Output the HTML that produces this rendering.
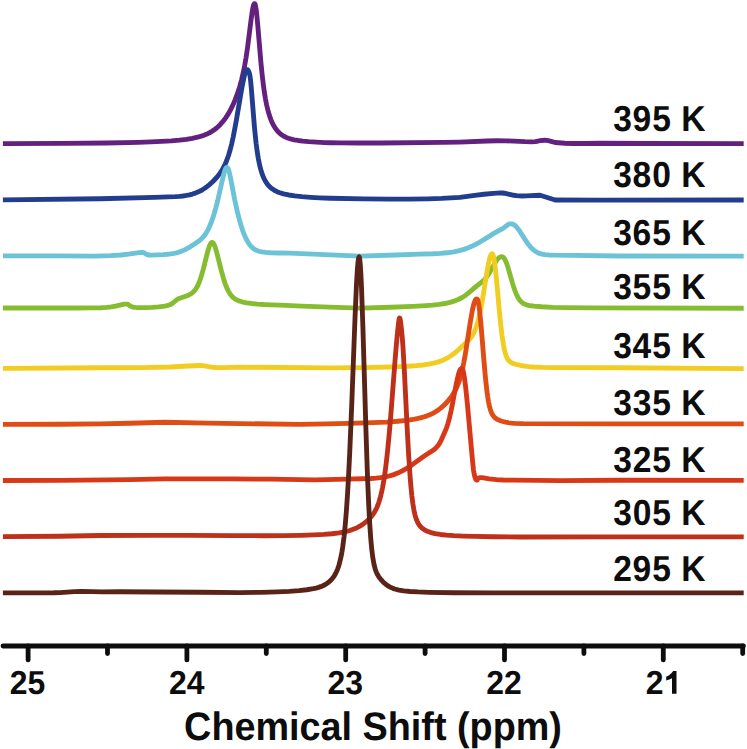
<!DOCTYPE html>
<html><head><meta charset="utf-8"><style>
html,body{margin:0;padding:0;background:#fff;}
svg{display:block;}
text{font-family:"Liberation Sans",sans-serif;font-weight:bold;fill:#0d0d0d;text-rendering:geometricPrecision;}
</style></head><body>
<svg width="747" height="749" viewBox="0 0 747 749">
<rect width="747" height="749" fill="#fff"/>
<g transform="translate(0,0.2)" fill="none" stroke-width="4.85" stroke-linejoin="round" stroke-linecap="butt">
<path d="M2.90,143.44 63.90,143.17 106.30,142.77 138.30,142.14 150.90,141.72 161.70,141.22 171.50,140.60 179.50,139.91 186.30,139.12 192.30,138.16 197.50,137.04 202.10,135.72 206.30,134.12 210.10,132.25 212.30,130.93 214.30,129.57 216.30,128.02 218.30,126.26 220.30,124.28 222.10,122.28 223.90,120.06 225.50,117.88 227.30,115.18 228.90,112.54 230.50,109.65 232.10,106.49 233.70,103.02 235.10,99.71 237.70,92.74 239.70,86.47 241.50,79.92 243.10,73.16 244.70,65.24 246.10,57.12 247.50,47.73 251.10,19.31 252.30,10.84 252.90,7.52 253.50,5.07 254.10,3.68 254.50,3.40 254.90,3.67 255.10,4.05 255.50,5.40 256.10,8.85 256.70,13.76 257.70,24.30 260.90,62.11 262.10,74.10 263.30,84.32 264.30,91.56 265.50,98.90 266.70,105.00 268.10,110.82 269.90,116.74 270.90,119.44 271.90,121.81 272.90,123.89 274.10,126.07 275.30,127.96 276.70,129.86 278.10,131.48 279.50,132.86 281.10,134.19 282.70,135.30 284.50,136.35 286.30,137.20 288.30,137.99 290.50,138.69 294.10,139.57 298.10,140.28 302.90,140.91 308.70,141.47 316.10,141.98 324.70,142.39 330.10,142.58 340.10,142.73 357.90,142.82 380.90,142.77 442.90,142.25 459.70,141.90 487.10,140.76 497.10,140.53 506.10,140.65 524.90,141.49 531.50,141.62 535.30,141.40 537.50,141.06 540.10,140.44 544.90,140.09 546.50,140.19 548.30,140.52 551.10,141.21 555.10,142.34 564.90,143.02 573.30,143.30 584.50,143.31 600.10,143.01 644.70,143.26 743.70,143.39" stroke="#64207f"/>
<path d="M2.90,199.63 100.10,198.54 154.30,197.16 175.30,196.40 179.50,196.14 183.10,195.78 186.50,195.27 189.50,194.67 192.50,193.87 195.30,192.93 197.90,191.86 200.50,190.59 202.70,189.33 204.70,188.05 206.90,186.48 208.90,184.90 212.90,181.30 216.70,177.27 219.70,173.49 222.30,169.53 224.70,165.02 226.70,160.36 228.50,155.25 230.10,149.85 231.70,143.55 233.30,136.30 236.10,121.53 241.70,88.58 243.90,77.50 244.90,73.40 245.50,71.51 245.90,70.58 246.30,69.92 246.70,69.53 247.10,69.39 247.50,69.50 247.90,69.83 248.30,70.39 248.90,71.60 249.50,73.26 250.10,76.41 250.70,81.38 251.30,87.79 254.50,127.51 256.10,143.07 257.10,150.77 258.30,158.30 259.70,165.19 261.10,170.54 262.70,175.26 263.70,177.65 264.70,179.69 265.70,181.46 266.90,183.27 268.10,184.81 269.30,186.13 270.70,187.45 272.10,188.57 273.70,189.66 275.30,190.58 277.10,191.45 279.10,192.27 283.50,193.65 288.70,194.79 294.70,195.71 301.90,196.48 310.50,197.12 319.50,197.60 330.10,198.03 363.90,198.68 389.30,198.94 408.50,198.96 427.70,198.70 441.70,198.25 459.90,197.24 474.70,195.22 484.10,194.08 493.30,193.19 500.70,192.73 502.50,192.81 504.30,193.04 513.90,195.06 516.50,195.44 519.30,195.69 522.50,195.79 526.30,195.73 540.10,195.02 555.10,199.76 600.10,199.85 743.70,199.78" stroke="#223c8e"/>
<path d="M2.90,255.70 59.90,255.67 95.10,255.93 110.30,255.41 120.90,254.78 128.50,254.01 138.90,252.48 142.50,252.20 143.10,252.25 143.70,252.45 146.30,254.04 147.50,254.56 149.10,254.84 151.50,254.86 163.30,254.35 167.30,254.05 170.70,253.68 173.70,253.21 176.50,252.61 179.10,251.88 181.70,250.95 185.50,249.23 189.70,246.89 195.30,243.32 199.90,240.04 201.90,238.28 203.90,236.04 205.70,233.54 207.50,230.50 209.30,226.85 210.90,223.05 212.50,218.69 214.10,213.76 215.90,207.50 217.70,200.47 222.50,179.13 223.90,173.42 224.70,170.76 225.50,168.74 226.30,167.52 226.90,167.20 227.30,167.30 227.50,167.47 228.10,168.42 228.70,170.02 229.30,172.16 230.70,178.61 234.70,199.49 237.50,212.17 239.10,218.48 240.90,224.80 242.70,230.32 244.50,235.04 246.30,239.00 248.10,242.24 249.90,244.83 251.90,247.05 253.90,248.69 256.30,250.08 258.90,251.05 261.90,251.74 265.70,252.23 270.90,252.55 278.90,252.77 290.10,252.85 318.90,254.25 360.10,255.92 395.70,254.82 419.90,253.91 432.90,253.58 440.50,253.18 447.10,252.59 453.90,251.61 457.10,250.97 460.10,250.25 463.10,249.40 465.90,248.47 468.90,247.33 471.70,246.12 475.50,244.28 479.50,242.09 483.90,239.45 495.10,232.42 497.90,230.82 503.10,228.08 504.70,227.01 507.30,224.87 508.30,224.18 509.30,223.75 510.70,223.63 512.30,223.80 513.70,224.37 515.30,225.55 516.90,227.21 518.30,228.97 519.90,231.24 525.30,239.71 527.70,243.23 530.30,246.54 532.70,249.01 533.90,250.04 535.30,251.07 536.70,251.92 538.10,252.62 539.50,253.18 541.10,253.68 544.70,254.39 548.70,254.76 554.30,254.96 619.90,255.81 743.70,255.91" stroke="#6cc3d8"/>
<path d="M2.90,307.80 76.10,307.77 91.30,307.69 100.90,307.51 106.70,307.22 111.30,306.73 115.50,305.99 123.10,304.27 125.10,303.98 126.90,303.88 127.30,303.93 127.90,304.17 130.10,305.68 131.10,306.25 132.30,306.72 133.50,307.02 135.30,307.25 137.70,307.39 145.70,307.41 151.90,307.20 158.90,306.64 164.70,305.87 166.90,305.44 168.50,305.01 170.30,304.32 172.10,303.32 173.50,302.30 176.70,299.61 178.30,298.58 187.10,295.47 188.90,294.71 190.50,293.88 191.90,292.96 193.30,291.78 194.50,290.51 195.70,288.93 197.10,286.62 198.50,283.73 199.90,280.19 201.10,276.62 203.30,268.90 207.50,252.18 209.10,246.78 209.90,244.71 210.70,243.21 211.50,242.36 212.10,242.20 212.50,242.31 212.90,242.59 213.70,243.63 214.50,245.25 215.30,247.40 216.90,252.84 221.50,271.24 223.90,279.69 225.30,283.86 226.70,287.43 228.10,290.43 229.50,292.89 231.10,295.14 232.90,297.07 234.90,298.65 237.10,299.89 239.70,300.94 242.90,301.84 246.70,302.61 251.10,303.24 257.10,303.85 264.10,304.32 271.30,304.64 280.10,304.87 302.10,305.98 329.30,306.97 360.10,307.85 390.70,307.08 412.90,306.18 426.10,305.42 432.50,304.94 439.10,304.23 444.90,303.32 449.90,302.22 454.30,300.89 458.30,299.29 462.10,297.31 464.90,295.53 467.70,293.46 476.50,285.95 481.90,281.79 483.50,280.35 484.90,278.87 486.30,277.17 487.70,275.22 490.10,271.39 495.10,262.56 497.30,259.31 498.50,257.96 499.50,257.14 500.50,256.64 501.50,256.48 502.30,256.62 502.90,256.88 503.30,257.14 503.90,257.74 504.90,259.25 506.10,261.85 507.10,264.57 508.10,267.69 512.30,282.40 514.10,288.16 516.10,293.49 517.90,297.20 518.90,298.83 519.90,300.20 521.10,301.51 522.30,302.54 523.70,303.45 525.10,304.12 526.70,304.68 528.50,305.13 530.90,305.57 533.90,305.95 541.70,306.59 552.70,307.10 564.90,307.39 593.10,307.61 743.70,308.04" stroke="#86bd30"/>
<path d="M2.90,368.15 63.70,367.84 99.90,367.55 122.90,367.56 142.50,367.39 169.90,366.80 188.10,365.78 200.90,365.32 202.50,365.38 204.30,365.59 210.10,366.68 212.70,367.07 215.50,367.32 218.50,367.41 224.10,367.37 240.10,367.00 329.90,367.63 361.70,367.36 389.70,366.84 399.90,366.49 408.10,366.06 416.10,365.48 422.90,364.78 428.70,363.94 433.70,362.93 436.50,362.21 439.10,361.41 441.50,360.54 443.90,359.53 446.10,358.46 448.30,357.25 450.50,355.87 452.70,354.33 455.50,352.13 458.50,349.51 468.50,340.03 470.10,338.34 471.10,337.14 472.30,335.42 473.30,333.70 474.90,330.32 476.30,326.58 477.70,322.01 479.10,316.52 480.50,310.08 482.10,301.61 487.10,270.98 488.70,262.31 489.70,258.07 490.50,255.59 491.30,254.06 491.70,253.69 492.10,253.59 492.50,253.79 492.90,254.45 493.50,256.34 494.30,260.48 495.10,266.25 496.50,279.36 499.30,310.08 500.70,324.17 502.10,335.92 503.50,344.98 504.30,349.01 505.10,352.28 505.90,354.89 506.90,357.39 507.90,359.21 509.10,360.75 510.50,361.95 512.10,362.85 514.30,363.69 517.30,364.52 520.90,365.29 524.90,365.95 528.90,366.44 533.10,366.80 542.90,367.24 553.30,367.37 620.10,367.54 743.70,368.42" stroke="#f1cd22"/>
<path d="M2.90,424.23 59.90,424.03 99.90,423.70 130.10,423.04 165.10,422.07 207.10,422.94 300.10,424.23 326.90,423.72 348.10,423.22 372.50,422.48 386.70,421.85 397.70,421.08 406.90,420.12 414.70,418.92 418.10,418.23 421.30,417.45 424.30,416.58 427.10,415.63 429.70,414.59 432.30,413.38 434.70,412.08 436.90,410.72 439.10,409.17 441.30,407.42 443.70,405.27 445.90,403.06 448.10,400.61 450.10,398.14 452.10,395.40 453.70,392.93 455.10,390.50 456.50,387.71 458.10,383.96 459.70,379.41 461.10,374.60 462.30,369.69 463.70,362.98 465.30,354.09 470.30,321.86 472.30,310.40 473.50,305.00 474.50,301.66 475.10,300.23 475.50,299.54 476.10,298.90 476.50,298.75 477.10,298.94 477.50,299.40 478.10,301.09 478.90,305.24 479.70,311.35 481.10,325.72 484.10,362.61 485.50,378.10 486.90,390.75 487.70,396.57 488.50,401.42 489.30,405.37 490.30,409.23 491.30,412.09 492.30,414.21 493.50,416.03 494.70,417.33 496.30,418.56 498.30,419.65 500.50,420.56 502.90,421.32 505.50,421.96 508.50,422.51 511.50,422.89 514.90,423.17 523.30,423.47 620.10,423.62 743.70,423.60" stroke="#df4c14"/>
<path d="M2.90,480.32 60.10,480.21 129.90,479.48 165.10,478.67 229.90,478.75 269.90,478.99 315.10,479.74 346.50,479.00 371.10,478.28 376.10,477.94 380.50,477.47 384.50,476.85 388.30,476.04 393.10,474.67 397.70,472.91 402.30,470.70 407.10,467.92 412.30,464.45 423.90,456.13 433.50,449.77 434.90,448.67 436.30,447.37 437.50,446.04 438.70,444.44 439.70,442.84 440.70,440.96 444.70,432.16 446.50,427.68 447.90,423.47 449.50,417.63 451.10,410.60 452.50,403.61 456.10,384.43 457.90,376.21 458.90,372.64 459.90,370.04 460.50,368.99 460.90,368.53 461.30,368.25 461.70,368.18 462.10,368.35 462.50,368.93 462.90,369.93 463.50,372.20 464.50,377.88 465.50,385.60 467.50,405.05 472.50,460.29 473.50,469.59 474.10,473.42 474.90,476.83 475.70,478.88 476.10,479.49 476.70,479.96 477.10,479.89 477.30,479.65 477.90,478.22 478.10,477.97 479.70,477.51 480.90,477.39 482.10,477.50 489.30,478.65 496.50,479.42 503.30,479.80 513.10,479.98 560.10,480.36 620.10,480.05 743.70,480.11" stroke="#d93818"/>
<path d="M2.90,536.35 59.90,536.04 100.10,535.29 149.90,535.14 189.90,535.16 232.30,535.44 264.10,535.52 284.30,535.42 301.10,535.18 313.70,534.75 323.90,534.22 332.10,533.56 338.90,532.73 344.70,531.67 349.90,530.30 354.50,528.63 356.70,527.64 358.90,526.51 361.30,525.09 363.70,523.46 365.90,521.75 367.90,519.98 369.70,518.19 371.50,516.14 373.10,514.02 374.50,511.87 375.70,509.73 376.90,507.24 377.90,504.82 378.90,502.04 380.70,495.85 382.50,487.75 383.90,479.82 385.30,470.24 386.70,458.84 387.90,447.59 389.30,432.77 390.70,416.34 394.90,362.18 396.50,342.81 397.50,332.17 398.30,324.83 399.10,318.88 399.30,318.05 399.50,317.65 399.70,317.65 400.10,318.74 400.90,324.08 402.10,335.27 402.90,345.57 404.30,369.44 407.30,430.48 408.70,455.76 410.30,478.95 411.10,488.16 411.90,495.89 412.90,503.69 413.90,509.73 415.10,515.14 416.30,519.05 417.70,522.31 418.50,523.73 419.50,525.19 420.50,526.38 421.50,527.38 422.70,528.39 424.10,529.37 425.70,530.29 427.30,531.05 430.90,532.36 435.10,533.41 440.30,534.28 446.50,534.96 453.90,535.49 463.10,535.91 474.30,536.23 493.50,536.54 520.10,536.78 620.10,536.60 743.70,536.60" stroke="#bf301b"/>
<path d="M2.90,592.70 42.10,592.69 53.70,592.59 60.10,592.39 74.50,591.37 81.30,591.14 102.70,591.65 120.10,591.59 155.10,591.84 199.90,592.00 239.90,592.43 260.90,592.10 277.50,591.65 289.30,591.11 298.90,590.43 306.90,589.56 313.30,588.50 316.10,587.86 318.50,587.20 320.70,586.45 322.90,585.55 324.90,584.54 326.70,583.45 328.30,582.30 329.90,580.93 331.50,579.29 332.90,577.59 334.30,575.56 335.50,573.50 336.70,571.04 337.70,568.61 338.70,565.73 339.50,563.03 341.10,556.23 341.90,551.96 342.70,546.95 344.10,536.04 345.30,524.05 346.50,509.18 347.50,494.29 348.50,476.98 349.70,452.93 351.70,405.57 355.10,315.54 356.50,283.99 357.30,270.34 357.90,262.94 358.50,258.32 358.90,256.90 359.10,256.70 359.30,256.93 359.70,258.71 360.30,264.64 360.90,274.22 361.50,287.06 362.90,326.80 365.90,428.61 367.30,470.60 368.10,490.98 368.90,508.46 369.70,523.09 370.70,537.67 371.70,548.68 372.70,556.82 373.90,563.73 375.10,568.49 375.90,570.86 376.70,572.78 377.50,574.39 378.50,576.09 379.90,578.08 381.30,579.79 382.90,581.51 384.50,583.01 386.10,584.32 387.70,585.46 389.30,586.45 391.10,587.38 392.90,588.16 394.70,588.80 398.90,589.88 403.90,590.68 410.10,591.27 418.30,591.74 428.70,592.10 454.50,592.53 492.70,592.73 743.70,592.70" stroke="#5a2318"/>
</g>
<g stroke="#0d0d0d" stroke-width="4.8" stroke-linecap="round" fill="none">
<line x1="3" y1="646" x2="743.4" y2="646"/>
<line x1="28.10" y1="646" x2="28.10" y2="659.9"/>
<line x1="107.50" y1="646" x2="107.50" y2="653.5"/>
<line x1="186.90" y1="646" x2="186.90" y2="659.9"/>
<line x1="266.30" y1="646" x2="266.30" y2="653.5"/>
<line x1="345.70" y1="646" x2="345.70" y2="659.9"/>
<line x1="425.10" y1="646" x2="425.10" y2="653.5"/>
<line x1="504.50" y1="646" x2="504.50" y2="659.9"/>
<line x1="583.90" y1="646" x2="583.90" y2="653.5"/>
<line x1="663.30" y1="646" x2="663.30" y2="659.9"/>
<line x1="742.70" y1="646" x2="742.70" y2="653.5"/>
</g>
<g font-size="100">
<text transform="matrix(0.319,0,0,0.3325,27.50,693.9)" text-anchor="middle">25</text>
<text transform="matrix(0.319,0,0,0.3325,186.70,693.9)" text-anchor="middle">24</text>
<text transform="matrix(0.319,0,0,0.3325,345.30,693.9)" text-anchor="middle">23</text>
<text transform="matrix(0.319,0,0,0.3325,503.90,693.9)" text-anchor="middle">22</text>
<text transform="matrix(0.319,0,0,0.3325,645.74,693.9)">2</text>
<path d="M672,693.8 L676.5,693.8 L676.5,671.1 L673.2,671.1 Q671.6,673.6 669.4,674.9 Q667.9,675.9 666.2,676.5 L666.2,680.5 Q669.6,679.6 672,678.2 Z" fill="#0d0d0d"/>
<text transform="matrix(0.336,0,0,0.3609,0,130.8)" x="1824.9 1882.7 1941.0 1996.6 2027.4">395 K</text>
<text transform="matrix(0.336,0,0,0.3609,0,187.2)" x="1824.9 1882.7 1941.5 1997.1 2027.4">380 K</text>
<text transform="matrix(0.336,0,0,0.3609,0,245.4)" x="1824.9 1882.7 1941.0 1996.6 2027.4">365 K</text>
<text transform="matrix(0.336,0,0,0.3609,0,298.7)" x="1824.9 1882.7 1941.0 1996.6 2027.4">355 K</text>
<text transform="matrix(0.336,0,0,0.3609,0,358.0)" x="1824.9 1882.2 1941.0 1996.6 2027.4">345 K</text>
<text transform="matrix(0.336,0,0,0.3609,0,414.8)" x="1824.9 1883.2 1941.0 1996.6 2027.4">335 K</text>
<text transform="matrix(0.336,0,0,0.3609,0,471.8)" x="1824.9 1883.2 1941.0 1996.6 2027.4">325 K</text>
<text transform="matrix(0.336,0,0,0.3609,0,524.9)" x="1824.9 1883.2 1941.0 1996.6 2027.4">305 K</text>
<text transform="matrix(0.336,0,0,0.3609,0,580.6)" x="1824.9 1882.7 1941.0 1996.6 2027.4">295 K</text>
<text transform="matrix(0.3778,0,0,0.397,184.1,739.9)">Chemical Shift (ppm)</text>
</g>
</svg>
</body></html>
